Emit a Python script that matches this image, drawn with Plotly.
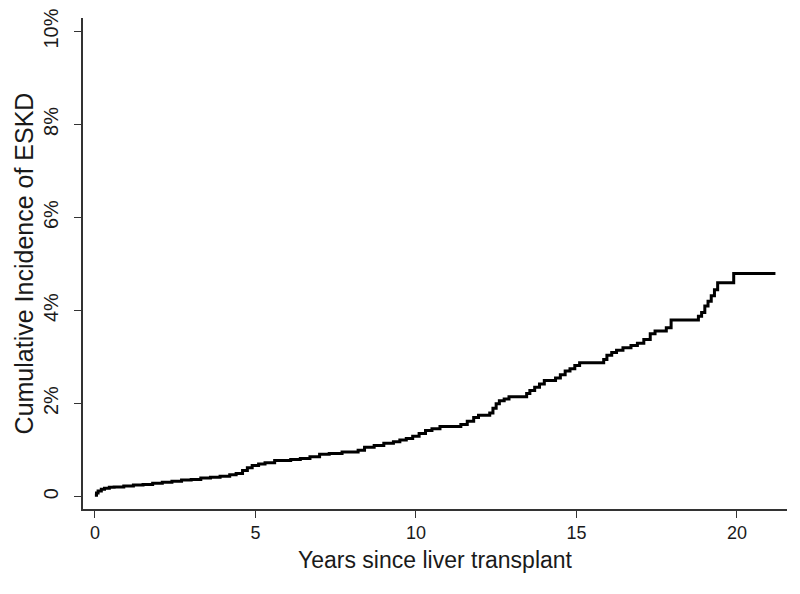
## Cumulative incidence of ESKD after liver transplant (step curve)
import plotly.graph_objs as go

## values (years, percent)
years = [0, 0.05, 0.1, 0.2, 0.3, 0.45, 0.6, 0.9, 1.2, 1.5, 1.8, 2.1, 2.4, 2.7, 3.0, 3.3, 3.6, 3.9,
         4.2, 4.4, 4.6, 4.75, 4.9, 5.1, 5.3, 5.6, 6.1, 6.4, 6.7, 7.0, 7.3, 7.7, 8.2, 8.4, 8.7, 9.0,
         9.3, 9.5, 9.7, 9.9, 10.1, 10.3, 10.5, 10.75, 11.4, 11.6, 11.8, 11.95, 12.3, 12.4, 12.5,
         12.6, 12.75, 12.9, 13.45, 13.55, 13.7, 13.85, 14.0, 14.35, 14.5, 14.65, 14.8, 14.95, 15.1,
         15.85, 15.95, 16.1, 16.25, 16.45, 16.7, 16.9, 17.1, 17.3, 17.45, 17.8, 17.95, 18.8, 18.9,
         19.0, 19.1, 19.2, 19.3, 19.4, 19.9, 21.2]
cuminc = [0.03, 0.08, 0.12, 0.16, 0.18, 0.2, 0.21, 0.23, 0.25, 0.26, 0.29, 0.31, 0.33, 0.36, 0.37,
          0.4, 0.42, 0.44, 0.47, 0.5, 0.56, 0.62, 0.67, 0.7, 0.73, 0.78, 0.8, 0.82, 0.86, 0.91, 0.93,
          0.96, 1.0, 1.06, 1.1, 1.15, 1.18, 1.22, 1.25, 1.3, 1.36, 1.42, 1.46, 1.51, 1.55, 1.62, 1.7,
          1.75, 1.8, 1.9, 2.0, 2.06, 2.1, 2.15, 2.22, 2.28, 2.35, 2.42, 2.5, 2.55, 2.62, 2.7, 2.75,
          2.82, 2.88, 2.95, 3.04, 3.1, 3.15, 3.2, 3.25, 3.3, 3.38, 3.5, 3.56, 3.63, 3.8, 3.88, 3.96,
          4.1, 4.2, 4.32, 4.45, 4.6, 4.8, 4.8]

x_ticks = [0, 5, 10, 15, 20]
y_ticks = [0, 2, 4, 6, 8, 10]
y_ticktext = ['0', '2%', '4%', '6%', '8%', '10%']

fnt = 'Arial, Liberation Sans, sans-serif'

fig = go.Figure()
fig.add_trace(go.Scatter(x=years, y=cuminc, mode='lines', line=dict(color='black', width=3, shape='hv'),
                         showlegend=False))

fig.update_xaxes(title_text='Years since liver transplant', title_font=dict(size=23, family=fnt, color='#1a1a1a'),
                 title_standoff=10, range=[-0.37, 21.56], tickvals=x_ticks, ticks='outside', ticklen=7,
                 tickwidth=1.3, tickcolor='#333', showline=True, linewidth=1.5, linecolor='#333',
                 showgrid=False, zeroline=False, ticklabelstandoff=0, automargin=False,
                 tickfont=dict(family=fnt, size=18, color='#1a1a1a'))
fig.update_yaxes(title_text='Cumulative Incidence of ESKD', title_font=dict(size=25, family=fnt, color='#1a1a1a'),
                 title_standoff=0, range=[-0.265, 10.29], tickvals=y_ticks, ticktext=y_ticktext, tickangle=-90,
                 ticks='outside', ticklen=7, tickwidth=1.3, tickcolor='#333', showline=True, linewidth=1.5,
                 linecolor='#333', showgrid=False, zeroline=False, ticklabelstandoff=8, automargin=False,
                 tickfont=dict(family=fnt, size=20, color='#1a1a1a'))
## the page adds an 8px body margin, so margins are shifted to compensate
fig.update_layout(width=800, height=594, margin=dict(l=75, r=21, t=10, b=93),
                  plot_bgcolor='white', paper_bgcolor='white')

fig.write_html("out.html")
